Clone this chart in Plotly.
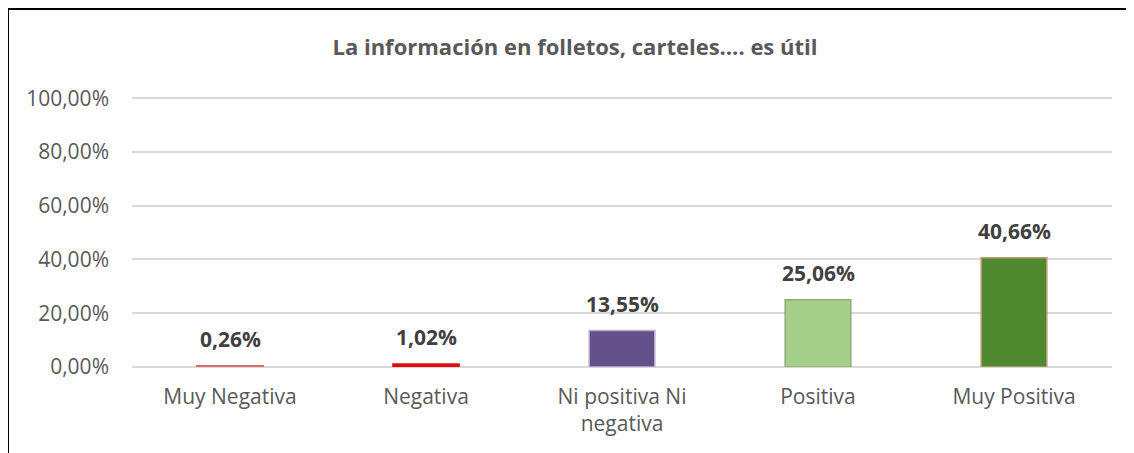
import plotly.graph_objects as go

categories = ["Muy Negativa", "Negativa", "Ni positiva Ni<br>negativa", "Positiva", "Muy Positiva"]
values = [0.0026, 0.0102, 0.1355, 0.2506, 0.4066]
labels = ["0,26%", "1,02%", "13,55%", "25,06%", "40,66%"]
bar_colors = ["#D85A5A", "#F00000", "#62508A", "#A6D08A", "#4F8A30"]
line_colors = ["#D86A6A", "#E01010", "#B8B0C8", "#8CAE74", "#BC9C72"]
line_widths = [2.5, 2, 1.5, 1.5, 1.5]
y_ticks = [0, 0.2, 0.4, 0.6, 0.8, 1.0]
y_tick_text = ["0,00%", "20,00%", "40,00%", "60,00%", "80,00%", "100,00%"]

# the page body adds an 8px offset; margins are given in figure coordinates
W, H = 1134, 453
YMAX = 1.012
ML = 124
pw = 980
ph = round(269 * YMAX)
MB = 453 - 367 + 8 - 8 + 8  # bottom of plot at screen y=367
MB = H - (367 - 8)
MT = H - MB - ph
MR = W - ML - pw

fig = go.Figure()
fig.add_trace(go.Bar(
    x=categories, y=values,
    marker=dict(color=bar_colors, line=dict(color=line_colors, width=line_widths)),
    hoverinfo="skip",
))

for c, v, t in zip(categories, values, labels):
    fig.add_annotation(x=c, y=v, text=f"<b>{t}</b>", showarrow=False,
                       yanchor="bottom", yshift=11,
                       font=dict(family="Open Sans", size=21, color="#404040"))

# frame (left and top edges of chart area)
fx = (0 - ML) / pw
fy = (H - MB - 1) / ph
fig.add_shape(type="line", xref="paper", yref="paper", x0=fx, x1=fx, y0=fy, y1=-1,
              line=dict(color="black", width=2))
fig.add_shape(type="line", xref="paper", yref="paper", x0=fx, x1=2, y0=fy, y1=fy,
              line=dict(color="black", width=2))

fig.update_layout(
    width=W, height=H,
    margin=dict(l=ML, r=MR, t=MT, b=MB),
    paper_bgcolor="white", plot_bgcolor="white",
    bargap=0.665,
    showlegend=False,
    title=dict(text="<b>La información en folletos, carteles…. es útil</b>",
               x=(567) / W, xanchor="center", y=1 - 39 / H, yanchor="middle",
               font=dict(family="Open Sans", size=22, color="#595959")),
    font=dict(family="Open Sans", color="#595959"),
)
fig.update_xaxes(showgrid=False, showline=False, ticks="",
                 tickfont=dict(size=21, color="#595959"), ticklabelstandoff=15)
fig.update_yaxes(range=[0, YMAX], tickvals=y_ticks, ticktext=y_tick_text,
                 showgrid=True, gridcolor="#D9D9D9", gridwidth=1.5,
                 zeroline=True, zerolinecolor="#D9D9D9", zerolinewidth=1.5,
                 showline=False, ticks="", ticklabelstandoff=22,
                 tickfont=dict(size=21, color="#595959"))

fig.write_html("out.html")
